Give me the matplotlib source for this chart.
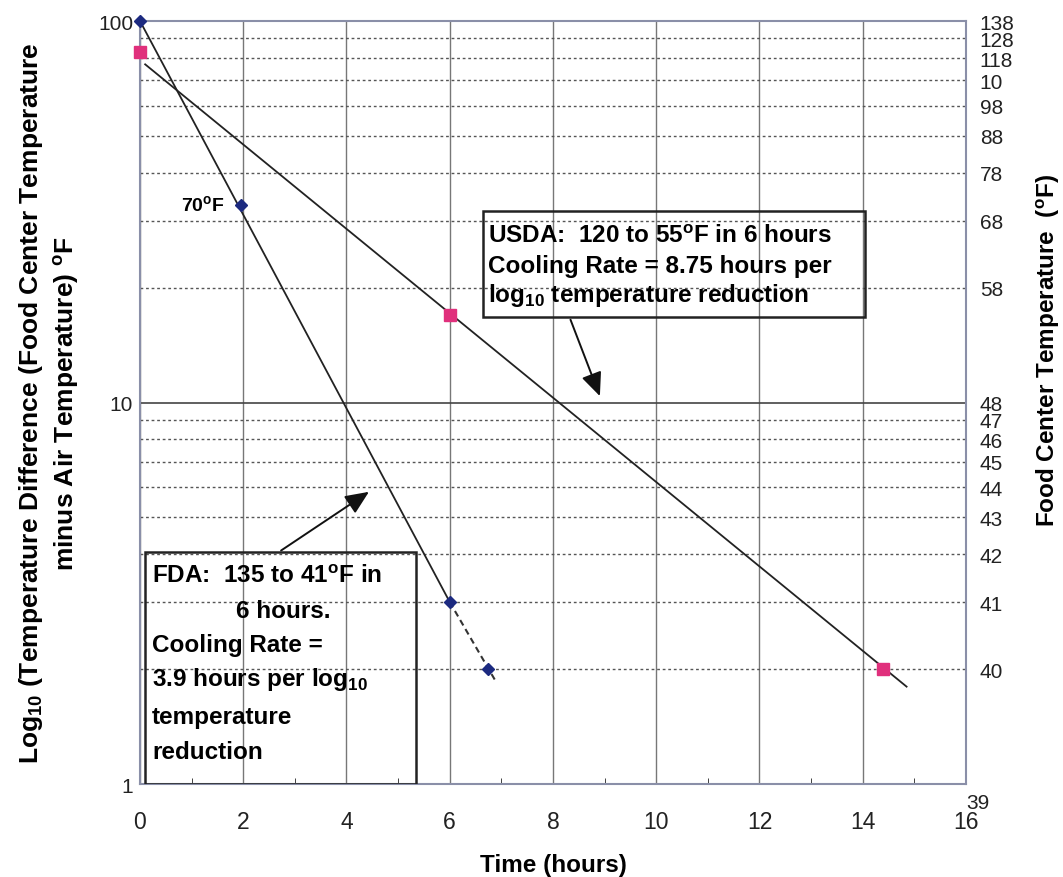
import matplotlib.pyplot as plt
from matplotlib.ticker import FixedLocator, NullFormatter, NullLocator
from matplotlib.patches import Rectangle
from matplotlib.transforms import ScaledTranslation

plt.rcParams['font.family'] = ['Liberation Sans', 'DejaVu Sans']
plt.rcParams['mathtext.fontset'] = 'custom'
plt.rcParams['mathtext.rm'] = 'Liberation Sans'
plt.rcParams['mathtext.bf'] = 'Liberation Sans:bold'

# FDA cooling points (time in hours, temperature difference in F)
fda_time = [0, 1.95, 6.0, 6.75]
fda_diff = [100, 33, 3.0, 2.0]
fda_line_t = [0, 6.0]
fda_line_d = [100, 3.0]
fda_dash_t = [6.0, 6.9]
fda_dash_d = [3.0, 1.85]

# USDA cooling points
usda_time = [0, 6.0, 14.4]
usda_diff = [83, 17, 2.0]
usda_line_t = [0.1, 14.85]
usda_line_d = [77, 1.8]

# right axis: food center temperature (air at 38F)
right_vals = [100, 90, 80, 70, 60, 50, 40, 30, 20, 10, 9, 8, 7, 6, 5, 4, 3, 2, 1]
right_labels = ['138', '128', '118', '10', '98', '88', '78', '68', '58', '48',
                '47', '46', '45', '44', '43', '42', '41', '40', '39']

fig = plt.figure(figsize=(10.63, 8.78), dpi=100)
ax = fig.add_axes([0.1317, 0.1059, 0.777, 0.869])
ax.set_yscale('log')
ax.set_xlim(0, 16)
ax.set_ylim(1, 100)

ax.xaxis.set_major_locator(FixedLocator(range(0, 17, 2)))
ax.xaxis.set_minor_locator(FixedLocator(range(1, 16, 2)))
ax.yaxis.set_major_locator(FixedLocator([1, 10, 100]))
ax.yaxis.set_minor_locator(FixedLocator([v * d for d in (1, 10) for v in range(2, 10)]))
ax.yaxis.set_minor_formatter(NullFormatter())
ax.set_yticklabels(['1', '10', '100'])

ax.grid(axis='x', which='major', color='#777777', lw=1.0)
ax.grid(axis='y', which='major', color='#444444', lw=1.2)
ax.grid(axis='y', which='minor', color='#555555', lw=1.0, ls=(0, (2, 2)))
ax.tick_params(axis='both', which='both', direction='in', colors='#222222')
ax.tick_params(axis='y', which='minor', length=0)
ax.tick_params(axis='x', which='minor', length=4)
ax.tick_params(axis='x', which='major', length=0, pad=19, labelsize=16.5)
ax.tick_params(axis='y', which='major', length=0, pad=5, labelsize=15)
for s in ax.spines.values():
    s.set_color('#8a8fa8')
    s.set_linewidth(1.5)

ax.plot(fda_line_t, fda_line_d, color='#222222', lw=1.3)
ax.plot(fda_dash_t, fda_dash_d, color='#333333', lw=1.5, ls=(0, (3, 2)))
ax.plot(usda_line_t, usda_line_d, color='#222222', lw=1.3)
ax.plot(fda_time, fda_diff, 'D', color='#1c2a80', ms=6, ls='none', clip_on=False, zorder=5)
ax.plot(usda_time, usda_diff, 's', color='#e0307c', ms=9, ls='none', clip_on=False, zorder=5)

ax.text(1.65, 33, '70$^{\\mathbf{o}}$F', fontsize=14, fontweight='bold', ha='right', va='center')

ax.set_xlabel('Time (hours)', fontsize=17.5, fontweight='bold', labelpad=14)
ax.set_ylabel('Log$_{\\mathbf{10}}$ (Temperature Difference (Food Center Temperature\n'
              'minus Air Temperature) $^{\\mathbf{o}}$F',
              fontsize=19, fontweight='bold', linespacing=1.3, multialignment='center')
ax.yaxis.set_label_coords(-0.071, 0.5)

ax2 = ax.twinx()
ax2.set_yscale('log')
ax2.set_ylim(1, 100)
ax2.yaxis.set_major_locator(FixedLocator(right_vals))
ax2.yaxis.set_minor_locator(NullLocator())
ax2.set_yticklabels(right_labels)
ax2.tick_params(axis='y', length=0, pad=10, labelsize=15, colors='#222222')
for s in ax2.spines.values():
    s.set_visible(False)
ax2.set_ylabel('Food Center Temperature  ($^{\\mathbf{o}}$F)', fontsize=17.5,
               fontweight='bold')
ax2.yaxis.set_label_coords(1.082, 0.57)
# the bottom label sits beside the last x tick like a superscript
lab39 = ax2.yaxis.get_major_ticks()[-1].label2
lab39.set_transform(lab39.get_transform() + ScaledTranslation(-0.14, -0.16, fig.dpi_scale_trans))

tf = ax.transAxes
arrow_style = dict(arrowstyle='-|>,head_length=0.8,head_width=0.35',
                   color='#111111', lw=1.4, mutation_scale=18)

# USDA text box
ax.add_patch(Rectangle((0.415, 0.612), 0.463, 0.139, transform=tf, fill=False,
                       ec='#222222', lw=1.8, zorder=6))
usda_lines = ['USDA:  120 to 55$^{\\mathbf{o}}$F in 6 hours',
              'Cooling Rate = 8.75 hours per',
              'log$_{\\mathbf{10}}$ temperature reduction']
for i, t in enumerate(usda_lines):
    ax.text(0.421, 0.719 - i * 0.039, t, transform=tf, fontsize=17.5, fontweight='bold',
            va='center', ha='left', zorder=7)
ax.annotate('', xy=(0.558, 0.505), xytext=(0.52, 0.612), xycoords=tf, textcoords=tf,
            arrowprops=arrow_style)

# FDA text box
ax.add_patch(Rectangle((0.006, 0.0), 0.328, 0.304, transform=tf, fill=False,
                       ec='#222222', lw=1.8, zorder=6))
fda_lines = [('FDA:  135 to 41$^{\\mathbf{o}}$F in', 0.0145),
             ('6 hours.', 0.116),
             ('Cooling Rate =', 0.0145),
             ('3.9 hours per log$_{\\mathbf{10}}$', 0.0145),
             ('temperature', 0.0145),
             ('reduction', 0.0145)]
ys = [0.273, 0.227, 0.183, 0.138, 0.089, 0.043]
for (t, x0), y0 in zip(fda_lines, ys):
    ax.text(x0, y0, t, transform=tf, fontsize=17.5, fontweight='bold',
            va='center', ha='left', zorder=7)
ax.annotate('', xy=(0.28, 0.385), xytext=(0.168, 0.304), xycoords=tf, textcoords=tf,
            arrowprops=arrow_style)

fig.savefig('out.png', dpi=100)
